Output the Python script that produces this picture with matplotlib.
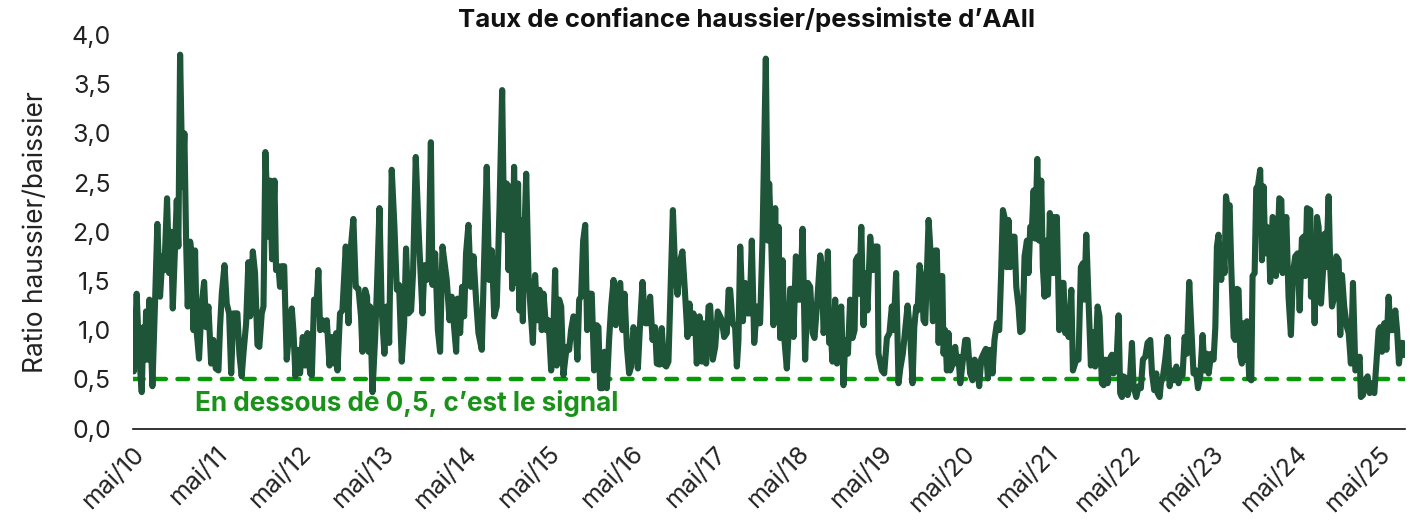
import numpy as np
import pandas as pd
import matplotlib
matplotlib.use('Agg')
from matplotlib import pyplot as plt
from matplotlib import transforms
from matplotlib.ticker import FuncFormatter

plt.rcParams['font.family'] = ['Inter', 'DejaVu Sans']

# semaines depuis le début de la série (lecture du graphique)
weeks = [
  0.0, 0.5, 2.3, 3.8, 5.5, 6.5, 7.6, 8.2, 9.3, 10.3, 12.2, 13.9, 15.3, 17.0, 18.5, 19.7,
  21.4, 22.7, 23.9, 25.0, 26.4, 27.5, 28.5, 29.6, 31.1, 32.3, 33.4, 34.4, 35.9, 36.9, 38.0,
  39.0, 40.1, 41.5, 43.2, 44.7, 45.9, 47.4, 49.1, 50.5, 52.0, 53.7, 54.7, 55.8, 57.5, 58.9,
  60.4, 61.7, 63.1,
  65.6, 66.9, 68.3, 69.4, 71.1, 72.5, 73.6, 75.3, 76.7, 78.2, 79.4, 80.9, 82.0, 83.2, 85.1,
  86.2, 87.4, 88.9, 89.9, 91.4, 92.4, 93.5, 95.0, 96.6, 98.3, 99.8, 100.8, 102.1, 103.5,
  105.0, 106.7, 108.2, 109.6, 111.3, 112.4, 113.8, 115.5, 116.5, 117.6, 119.3, 120.7, 121.8,
  123.5, 124.9, 126.4, 127.7, 128.5,
  130.1, 131.6, 133.7, 135.4, 136.4, 138.5, 140.0, 141.7, 143.3, 144.2, 145.9, 147.1, 148.0,
  149.0, 150.5, 152.2, 153.4, 154.9, 156.3, 158.0, 159.5, 161.0, 162.6, 164.3, 165.8, 167.2,
  168.9, 170.4, 171.6, 173.1, 174.8, 176.0, 177.7, 179.4, 180.7, 181.9, 183.2, 184.6, 185.7,
  187.2, 188.2, 189.9, 191.6, 193.0, 194.5,
  197.2, 198.9, 200.3, 201.8, 203.1, 203.9, 205.6, 206.8, 208.1, 209.3, 210.8, 212.3, 214.0,
  215.6, 217.1, 219.2, 220.9, 222.3, 223.8, 225.5, 227.0, 228.6, 230.3, 232.0, 233.2, 234.9,
  236.0, 237.0, 238.3, 239.5, 240.8, 242.0, 242.9, 243.7, 245.0, 245.8, 247.1, 248.5, 250.0,
  251.3, 252.7, 254.2, 255.5, 256.9, 258.0, 259.7, 261.1,
  262.8, 264.2, 265.3, 266.3, 267.8, 269.1, 270.5, 271.6, 272.6, 274.1, 275.3, 276.8, 277.9,
  279.3, 280.4, 281.6, 282.9, 284.2, 285.4, 286.7, 288.3, 289.8, 291.5, 292.5, 293.6, 295.1,
  296.3, 297.8, 299.2, 300.5, 302.0, 303.4, 304.7, 306.2, 307.6, 308.9, 310.4, 311.8, 313.1,
  314.5, 316.0, 317.3, 318.7, 320.2, 321.9, 323.6, 325.0, 326.5,
  328.1, 329.2, 330.9, 332.3, 333.8, 335.1, 336.5, 339.3, 340.7, 342.2, 343.9, 345.3, 346.8,
  348.5, 349.7, 351.2, 352.2, 353.3, 354.3, 356.0, 357.5, 358.5, 360.2, 361.7, 362.7, 364.4,
  365.9, 367.5, 369.0, 370.1, 371.5, 373.2, 374.3, 375.3, 376.8, 378.4, 379.5, 380.5, 381.6,
  383.3, 384.7, 386.2, 387.5, 388.9, 390.4, 392.1, 393.1,
  394.1, 395.6, 397.7, 399.0, 399.8, 401.1, 402.5, 403.6, 404.6, 405.7, 406.7, 408.2, 409.4,
  410.9, 412.0, 413.0, 414.1, 415.1, 416.6, 418.2, 419.3, 420.8, 422.4, 424.1, 425.6, 427.1,
  428.3, 429.8, 431.9, 432.9, 434.0, 435.4, 436.7, 437.5, 438.8, 439.6, 441.3, 442.4, 443.4,
  445.1, 446.5, 447.6, 449.3, 450.7, 452.2, 453.5, 454.3, 455.6, 456.4, 457.7, 459.1,
  460.1, 461.6, 463.3, 465.0, 466.4, 467.9, 468.5, 470.6, 472.1, 473.8, 475.4, 476.9, 478.0,
  479.6, 481.1, 482.2, 483.8, 485.3, 486.8, 488.4, 489.9, 491.0, 492.2, 493.1, 494.3, 495.8,
  496.8, 497.9, 498.9, 500.0, 501.4, 502.7, 504.2, 505.2, 506.3, 507.3, 508.6, 509.4, 510.4,
  511.5, 512.5, 513.6, 515.3, 516.7, 517.8, 518.8, 519.9, 521.6, 523.0, 524.5,
  526.1, 527.6, 528.9, 530.3, 531.8, 533.1, 534.5, 536.0, 537.3, 538.7, 540.2, 541.4, 542.9,
  544.4, 545.6, 546.7, 547.7, 549.0, 550.2, 551.3, 552.8, 554.0, 555.1, 556.5, 557.6, 559.1,
  560.3, 561.8, 562.8, 563.9, 564.9, 566.0, 567.0, 568.3, 569.5, 570.8, 571.8, 572.9, 573.9,
  575.0, 576.2, 577.5, 578.5, 579.6, 580.6, 582.1, 583.4, 584.8, 585.9, 586.9, 588.0, 589.7,
  590.7,
  592.8, 594.2, 595.7, 597.0, 597.8, 599.1, 600.5, 602.0, 603.7, 604.7, 606.2, 607.4, 608.9,
  610.0, 611.0, 612.5, 613.7, 615.2, 616.2, 617.9, 619.4, 620.4, 621.5, 622.5, 624.2, 625.1,
  626.3, 627.8, 628.8, 630.5, 632.0, 633.4, 634.7, 636.2, 637.6, 639.3, 640.4, 641.8, 643.1,
  643.9, 645.2, 646.0, 647.3, 648.7, 650.2, 651.5, 652.9, 654.4, 655.7, 657.1,
  658.1, 659.6, 660.9, 662.3, 663.8, 665.1, 666.5, 668.0, 669.3, 670.7, 672.2, 673.4, 674.9,
  676.0, 677.6, 679.1, 680.2, 681.2, 682.2, 683.9, 684.8, 686.0, 686.9, 688.1, 689.2, 690.2,
  691.7, 692.7, 693.8, 694.8, 695.9, 696.9, 698.0, 699.0, 700.1, 701.5, 702.8, 703.6, 704.9,
  705.9, 707.0, 708.4, 709.5, 710.5, 711.6, 712.6, 713.7, 714.7, 716.2, 717.3, 718.3, 719.6,
  720.4, 721.7, 722.5,
  724.8, 726.2, 727.7, 729.0, 730.4, 731.9, 733.2, 734.6, 735.7, 736.7, 737.8, 739.9, 740.3,
  741.5, 742.6, 744.1, 745.1, 746.6, 747.8, 748.9, 749.9, 751.4, 752.4, 753.5, 755.0, 756.2,
  757.7, 758.7, 759.8, 761.2, 762.9, 764.0, 765.4, 766.7, 768.2, 769.2, 770.9, 771.7, 773.0,
  774.4, 775.9, 777.2, 778.6, 780.1, 781.4, 782.8, 783.9, 784.9, 786.4, 787.7, 789.1, 790.2,
  791.8, 793.3, 794.4, 795.6, 796.9, 798.1, 799.4,
]

# ratio haussier/baissier
ratio = [
  0.88, 0.58, 1.37, 0.76, 0.37, 1.03, 0.70, 1.19, 0.70, 1.31, 0.43, 1.31, 2.08, 1.34, 1.75, 1.61,
  2.34, 1.58, 2.00, 1.22, 1.85, 2.32, 1.85, 3.80, 2.46, 3.00, 1.88, 1.24, 1.90, 1.78, 1.00,
  1.81, 0.97, 0.71, 1.27, 1.49, 1.03, 1.24, 0.66, 0.90, 0.61, 0.59, 1.03, 1.37, 1.66, 1.27,
  1.17, 0.56, 1.17,
  1.17, 0.75, 0.53, 0.76, 1.07, 1.69, 1.14, 1.80, 1.58, 0.85, 0.83, 1.17, 1.24, 2.81, 1.95,
  2.52, 1.72, 2.52, 1.61, 1.65, 1.44, 1.65, 1.65, 0.70, 1.00, 1.22, 1.00, 0.53, 0.80,
  0.56, 0.93, 0.64, 0.97, 0.56, 0.54, 1.31, 1.31, 1.61, 1.00, 1.10, 1.00, 1.10,
  0.64, 0.93, 0.66, 0.97, 0.59,
  1.17, 1.20, 1.85, 1.07, 1.75, 2.13, 1.44, 1.42, 1.14, 0.78, 1.41, 1.34, 0.78,
  1.24, 0.37, 0.93, 1.48, 2.24, 1.20, 0.76, 1.24, 0.87, 2.63, 2.05, 1.41, 1.46,
  0.68, 1.07, 1.83, 1.17, 1.20, 1.58, 2.76, 2.05, 1.58, 1.17, 1.66, 1.51, 1.64,
  2.91, 1.46, 1.78, 1.00, 0.78, 1.85,
  1.51, 1.10, 1.34, 1.03, 0.78, 1.32, 0.97, 1.44, 1.14, 1.78, 2.07, 1.44, 1.75,
  1.31, 0.97, 0.80, 1.85, 2.66, 1.51, 1.81, 1.14, 1.24, 2.22, 3.44, 2.02, 2.49,
  1.61, 2.46, 1.42, 2.66, 1.48, 2.49, 1.20, 2.12, 1.09, 1.85, 2.59, 1.58, 1.17,
  0.87, 1.56, 1.10, 1.41, 1.00, 1.37, 1.00, 1.10,
  0.59, 1.00, 1.61, 0.64, 1.31, 1.24, 0.54, 0.70, 0.83, 0.80, 1.00, 1.14, 1.10,
  0.70, 1.31, 1.34, 1.91, 2.07, 1.00, 1.37, 1.37, 0.59, 1.05, 1.03, 0.41, 0.41,
  0.78, 0.41, 0.90, 1.24, 1.51, 1.05, 1.37, 1.48, 1.00, 1.37, 0.83, 0.56, 0.63,
  1.03, 0.93, 0.61, 1.07, 1.49, 1.07, 1.07, 1.34, 0.90,
  1.03, 0.66, 0.65, 1.02, 0.65, 0.63, 0.68, 2.22, 1.61, 1.36, 1.71, 1.80, 1.41,
  0.93, 1.27, 0.97, 1.17, 1.10, 0.66, 1.14, 0.68, 1.07, 0.66, 1.24, 1.25, 0.70,
  0.83, 1.19, 1.14, 1.10, 0.93, 0.97, 1.41, 1.41, 1.07, 1.03, 0.63, 0.90, 1.85,
  1.09, 1.48, 1.17, 1.17, 1.91, 0.87, 1.24, 1.07,
  1.07, 1.91, 3.76, 1.91, 2.49, 1.91, 1.05, 2.24, 1.10, 2.05, 0.92, 1.71, 0.90,
  0.61, 0.97, 1.42, 1.42, 0.93, 1.75, 1.31, 1.31, 2.03, 0.70, 1.48, 1.44, 0.97,
  0.92, 1.24, 1.76, 1.65, 0.97, 1.17, 1.80, 0.87, 0.90, 0.68, 1.31, 0.66, 1.07,
  1.24, 0.44, 0.90, 0.76, 1.31, 0.92, 1.00, 1.71, 1.75, 1.37, 2.05, 1.05,
  1.58, 1.20, 1.95, 1.61, 1.85, 1.85, 0.76, 0.59, 0.56, 0.92, 0.97, 1.24, 1.00,
  1.58, 0.46, 0.61, 0.76, 1.00, 1.25, 0.97, 0.46, 1.03, 1.24, 1.20, 1.66, 1.51,
  1.10, 1.07, 1.58, 2.12, 1.75, 1.09, 1.81, 1.81, 0.87, 1.55, 1.55, 0.76, 1.00,
  0.59, 0.97, 0.59, 0.66, 0.83, 0.66, 0.73, 0.46, 0.70, 0.90, 0.90,
  0.56, 0.49, 0.70, 0.66, 0.43, 0.71, 0.76, 0.81, 0.51, 0.80, 0.56, 0.90, 1.07,
  1.00, 1.58, 2.22, 2.15, 1.64, 2.12, 1.64, 1.95, 1.95, 1.44, 1.24, 0.98, 1.00,
  1.75, 1.91, 1.58, 2.05, 2.02, 2.42, 1.93, 2.74, 1.91, 2.52, 1.64, 1.34, 1.91,
  1.36, 2.19, 1.58, 2.15, 1.58, 2.15, 1.00, 1.48, 1.48, 0.97, 1.07, 0.93, 1.41,
  0.59,
  0.70, 0.70, 1.64, 1.68, 1.31, 1.97, 1.31, 0.64, 0.98, 0.63, 1.24, 1.14, 0.46,
  0.44, 0.70, 0.46, 0.70, 0.75, 0.56, 0.61, 1.15, 0.36, 0.32, 0.53, 0.51, 0.34,
  0.43, 0.87, 0.43, 0.32, 0.43, 0.41, 0.70, 0.73, 0.87, 0.90, 0.56, 0.39, 0.56,
  0.36, 0.32, 0.46, 0.53, 0.70, 0.93, 0.43, 0.59, 0.49, 0.63, 0.46,
  0.58, 0.54, 0.93, 0.76, 1.49, 1.03, 0.56, 0.59, 0.41, 0.53, 0.95, 0.59, 0.76,
  0.56, 0.76, 0.70, 1.03, 1.85, 1.97, 1.51, 1.85, 1.58, 2.36, 2.22, 2.27, 1.64,
  0.93, 0.90, 1.42, 1.41, 0.73, 0.66, 1.07, 0.70, 1.09, 0.51, 0.49, 1.55, 1.58,
  2.44, 2.47, 2.63, 1.71, 2.46, 1.78, 2.05, 2.02, 1.49, 2.15, 2.12, 1.55, 1.98,
  2.34, 2.32, 1.58,
  2.15, 1.34, 0.95, 1.58, 1.75, 1.78, 1.20, 1.93, 1.95, 1.55, 2.24, 2.22, 1.34,
  1.78, 1.07, 2.15, 2.05, 1.27, 1.58, 1.98, 1.64, 2.36, 1.64, 1.24, 1.34, 1.75,
  1.71, 0.95, 1.56, 1.24, 1.03, 0.97, 0.66, 1.48, 0.59, 0.61, 0.73, 0.32, 0.34,
  0.49, 0.53, 0.36, 0.46, 0.36, 0.66, 1.00, 1.03, 0.78, 1.07, 0.80, 1.34, 1.00,
  1.00, 1.20, 1.00, 0.66, 0.87, 0.87, 0.75,
]

start_date = '2010-05-01'
signal_level = 0.5
signal_text = 'En dessous de 0,5, c\u2019est le signal'
title = 'Taux de confiance haussier/pessimiste d\u2019AAII'
ylabel = 'Ratio haussier/baissier'
tick_years = list(range(2010, 2026))

dates = pd.Timestamp(start_date) + pd.to_timedelta(np.array(weeks) * 7, unit='D')

fig = plt.figure(figsize=(14.16, 5.31), dpi=100)
ax = fig.add_axes([133/1416, 1 - 428.5/531, (1405-133)/1416, (428.5-35)/531])

ax.plot(dates, ratio, color='#1e5438', lw=4.4, solid_joinstyle='round', zorder=3)
ax.axhline(signal_level, color='#069a06', lw=3.2, dashes=(2.4, 2.6),
           dash_capstyle='round', zorder=2)

ax.set_xlim(dates[0], dates[-1])
ax.set_ylim(0, 4.0)
ax.set_yticks(np.arange(0, 4.01, 0.5))
ax.yaxis.set_major_formatter(FuncFormatter(lambda v, p: f'{v:.1f}'.replace('.', ',')))
ticks = [pd.Timestamp(f'{y}-05-01') for y in tick_years]
ax.set_xticks(ticks)
ax.set_xticklabels([f'mai/{y % 100:02d}' for y in tick_years],
                   rotation=45, ha='right', rotation_mode='anchor')

for s in ['top', 'right', 'left']:
  ax.spines[s].set_visible(False)
ax.spines['bottom'].set_color('#111111')
ax.spines['bottom'].set_linewidth(1.2)
ax.tick_params(axis='both', length=0, labelsize=18, colors='#222222')
ax.tick_params(axis='y', pad=16)
ax.tick_params(axis='x', pad=10)

ax.set_ylabel(ylabel, fontsize=19, color='#222222', labelpad=16)

trans = transforms.blended_transform_factory(ax.transAxes, ax.transData)
ax.text(0.049, 0.25, signal_text, transform=trans, color='#1a921a',
        fontsize=18.8, fontweight='bold', va='center', ha='left')

fig.text(747/1416, 1 - 19/531, title, fontsize=18.5, fontweight='bold',
         ha='center', va='center', color='#111111')

fig.savefig('out.png', dpi=100)
